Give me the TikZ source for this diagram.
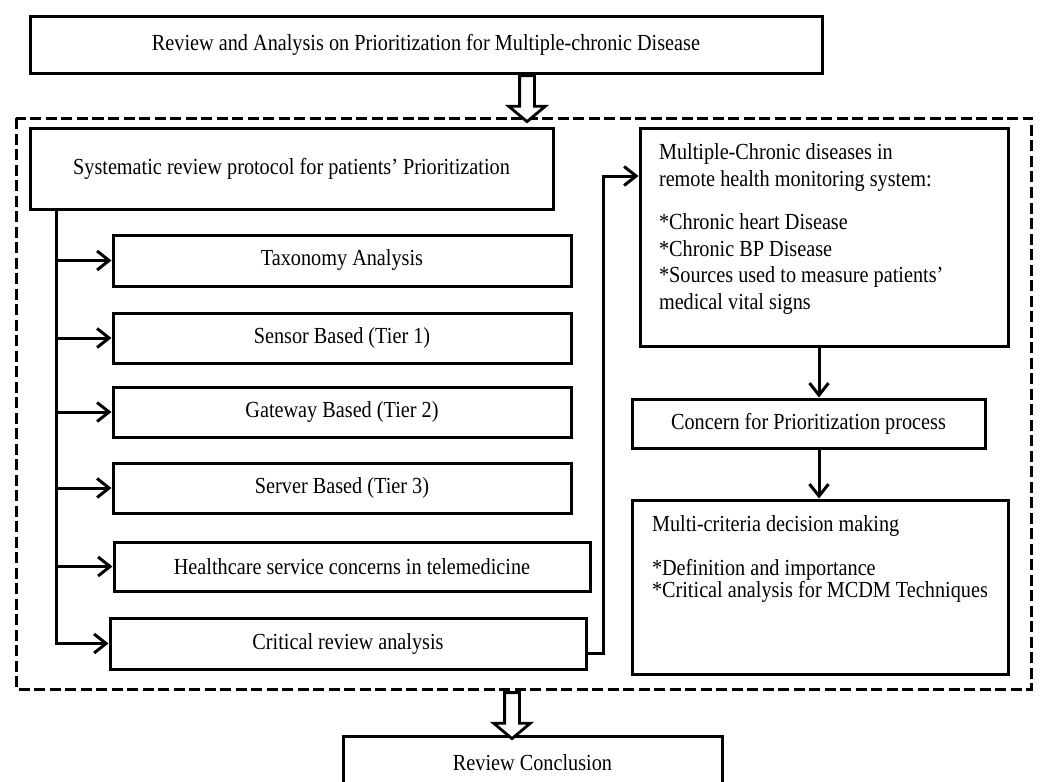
\documentclass[tikz,border=0pt]{standalone}
\usepackage{fontspec}
\setmainfont[FakeStretch=0.88]{Liberation Serif}
\usetikzlibrary{arrows.meta,shapes.arrows}

\begin{document}
\begin{tikzpicture}[x=1pt,y=-1pt]
\tikzset{boite/.style={draw, line width=3pt, inner sep=0pt, font=\fontsize{23}{26}\selectfont},
fleche/.style={line width=3pt, -{Straight Barb[length=12pt,width=19pt]}},
creuse/.style={draw, line width=2.8pt, fill=white, single arrow, rotate=-90, inner sep=6pt, minimum height=46pt, single arrow head extend=11pt, single arrow tip angle=100},
cadre/.style={line width=3pt, dash pattern=on 11pt off 4.5pt}}
\useasboundingbox (0,0) rectangle (1040,781);
\coordinate (tronc) at (56,0);
\coordinate (axe) at (819,0);
\coordinate (coude) at (603,176);
\draw[cadre] (16,118) rectangle (1031,689);
\node[boite, minimum width=792pt, minimum height=57pt] (T) at (426,45) {Review and Analysis on Prioritization for Multiple-chronic Disease};
\node[boite, minimum width=523pt, minimum height=81pt] (B1) at (291.5,168.5) {Systematic review protocol for patients' Prioritization};
\node[boite, minimum width=458pt, minimum height=51pt] (B2) at (342,260.5) {Taxonomy Analysis};
\node[boite, minimum width=458pt, minimum height=50pt] (B3) at (342,338) {Sensor Based (Tier 1)};
\node[boite, minimum width=458pt, minimum height=50pt] (B4) at (342,412) {Gateway Based (Tier 2)};
\node[boite, minimum width=458pt, minimum height=50pt] (B5) at (342,488) {Server Based (Tier 3)};
\node[boite, minimum width=476pt, minimum height=49pt] (B6) at (352,566.5) {Healthcare service concerns in telemedicine};
\node[boite, minimum width=476pt, minimum height=51pt] (B7) at (348,643.5) {Critical review analysis};
\node[boite, minimum width=368pt] (M1) at (824,237) {\parbox[c][218pt][t]{330pt}{\fontsize{23}{26.5}\selectfont\raggedright
\vspace*{16pt}Multiple-Chronic diseases in\\ remote health monitoring system:\\[17pt]*Chronic heart Disease\\{}*Chronic BP Disease\\{}*Sources used to measure patients'\\ medical vital signs}};
\node[boite, minimum width=353pt, minimum height=49pt] (M2) at (808.5,423.5) {Concern for Prioritization process};
\node[boite, minimum width=376pt] (M3) at (820,587) {\parbox[c][174pt][t]{336pt}{\fontsize{23}{21}\selectfont\raggedright
\vspace*{16pt}Multi-criteria decision making\\[21pt]*Definition and importance\\{}*Critical analysis for MCDM Techniques}};
\node[boite, minimum width=379pt, minimum height=54pt] (R) at (532.5,763) {Review Conclusion};
\node[creuse] (F1) at (527,95.5) {};
\node[creuse] (F2) at (512,712.5) {};
\draw[fleche] (B1.south -| tronc) |- (B7.west);
\foreach \n in {2,...,6} \draw[fleche] (B\n.west -| tronc) -- (B\n.west);
\draw[fleche] ([yshift=-10pt]B7.east) -| (coude) -- (coude -| M1.west);
\draw[fleche] (M1.south -| axe) -- (M2.north -| axe);
\draw[fleche] (M2.south -| axe) -- (M3.north -| axe);
\end{tikzpicture}
\end{document}
